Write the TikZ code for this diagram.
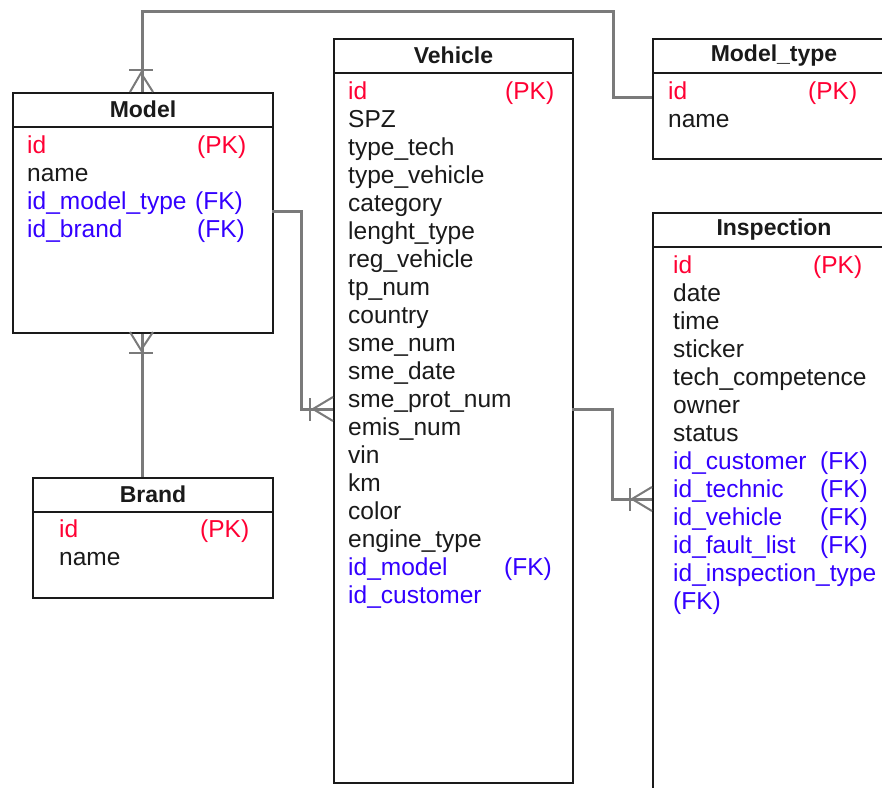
\documentclass[tikz,border=0pt]{standalone}
\usepackage{fontspec}
\setmainfont{Liberation Sans}
\definecolor{txt}{HTML}{1A1A1A}
\definecolor{pkc}{HTML}{FF0033}
\definecolor{fkc}{HTML}{3300FF}
\definecolor{linec}{HTML}{7A7A7A}
\definecolor{boxc}{HTML}{1A1A1A}
\begin{document}
\begin{tikzpicture}[x=1pt,y=-1pt,
  box/.style={draw=boxc, line width=2pt, anchor=north west, inner sep=0pt, fill=white},
  hline/.style={draw=boxc, line width=2pt},
  title/.style={font=\fontsize{23}{27}\selectfont\bfseries, text=txt, inner sep=0pt},
  fld/.style={font=\fontsize{24.5}{28}\selectfont, text=txt, anchor=base west, inner sep=0pt},
  pk/.style={fld, text=pkc},
  fk/.style={fld, text=fkc},
  conn/.style={draw=linec, line width=3pt},
  foot/.style={draw=linec, line width=2pt}]
\clip (0,0) rectangle (882,787);
\fill[white] (0,0) rectangle (882,787);

% boxes
\node[box, minimum width=260pt, minimum height=240pt] (model) at (12,92) {};
\node[box, minimum width=239pt, minimum height=744pt] (vehicle) at (333,38) {};
\node[box, minimum width=242pt, minimum height=120pt] (mtype) at (652,38) {};
\node[box, minimum width=242pt, minimum height=620pt] (insp) at (652,212) {};
\node[box, minimum width=240pt, minimum height=120pt] (brand) at (32,477) {};

% header lines
\foreach \b in {model,vehicle,mtype,insp,brand}
  \draw[hline] ([yshift=-35pt]\b.north west) -- ([yshift=-35pt]\b.north east);

% titles
\node[title] (modelT) at ([yshift=-17.5pt]model.north) {Model};
\node[title] (vehicleT) at ([yshift=-17.5pt]vehicle.north) {Vehicle};
\node[title] (mtypeT) at ([yshift=-17.5pt]mtype.north) {Model\_type};
\node[title] (inspT) at ([yshift=-17.5pt]insp.north) {Inspection};
\node[title] (brandT) at ([yshift=-17.5pt]brand.north) {Brand};

% Model fields
\foreach \s/\t [count=\i from 0] in {pk/id, fld/name, fk/id\_model\_type, fk/id\_brand}
  \node[\s] (m\i) at (27,153+28*\i) {\t};
\node[pk] (mPK) at (197,153) {(PK)};
\node[fk] (mFK1) at (195,209) {(FK)};
\node[fk] (mFK2) at (197,237) {(FK)};

% Vehicle fields
\foreach \s/\t [count=\i from 0] in {pk/id, fld/SPZ, fld/type\_tech, fld/type\_vehicle, fld/category,
  fld/lenght\_type, fld/reg\_vehicle, fld/tp\_num, fld/country, fld/sme\_num, fld/sme\_date,
  fld/sme\_prot\_num, fld/emis\_num, fld/vin, fld/km, fld/color, fld/engine\_type, fk/id\_model, fk/id\_customer}
  \node[\s] (v\i) at (348,99+28*\i) {\t};
\node[pk] (vPK) at (505,99) {(PK)};
\node[fk] (vFK) at (504,575) {(FK)};

% Model_type fields
\node[pk] (t0) at (668,99) {id};
\node[fld] (t1) at (668,127) {name};
\node[pk] (tPK) at (808,99) {(PK)};

% Inspection fields
\foreach \s/\t [count=\i from 0] in {pk/id, fld/date, fld/time, fld/sticker, fld/tech\_competence,
  fld/owner, fld/status, fk/id\_customer, fk/id\_technic, fk/id\_vehicle, fk/id\_fault\_list,
  fk/id\_inspection\_type, fk/(FK)}
  \node[\s] (i\i) at (673,273+28*\i) {\t};
\node[pk] (iPK) at (813,273) {(PK)};
\foreach \r in {7,8,9,10}
  \node[fk] (iFK\r) at (820,273+28*\r) {(FK)};

% Brand fields
\node[pk] (b0) at (59,537) {id};
\node[fld] (b1) at (59,565) {name};
\node[pk] (bPK) at (200,537) {(PK)};

% connectors
\coordinate (mtIn) at (652,97);
\draw[conn] ([xshift=-1pt]model.north) |- (613,11) |- (mtIn);
\draw[conn] ([xshift=-1pt]brand.north -| model.south) -- ([xshift=-1pt]model.south);
\coordinate (mOut) at (272,211);
\coordinate (vIn) at (333,409);
\draw[conn] (mOut) -| (301,409) -- (vIn);
\coordinate (vOut) at (572,409);
\coordinate (iIn) at (652,499);
\draw[conn] (vOut) -| (612,499) -- (iIn);

% crow's feet
\draw[foot] (130,92) -- (141,73) -- (153,92);
\draw[foot] (129,70) -- (153,70);
\draw[foot] (130,332) -- (141,350) -- (153,332);
\draw[foot] (129,353) -- (153,353);
\draw[foot] (333,397) -- (313,409) -- (333,421);
\draw[foot] (310,398) -- (310,421);
\draw[foot] (652,487) -- (632,499) -- (652,511);
\draw[foot] (630,488) -- (630,511);
\end{tikzpicture}
\end{document}
